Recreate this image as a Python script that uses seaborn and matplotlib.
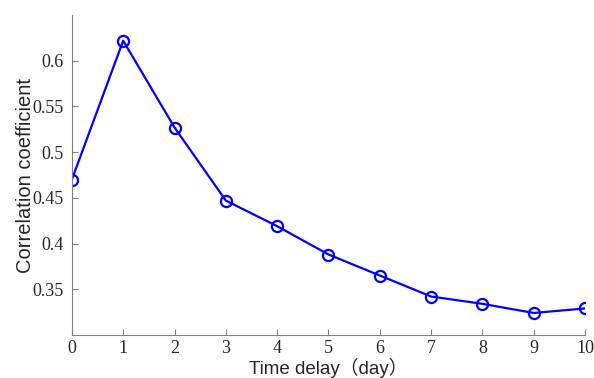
import numpy as np
import pandas as pd
import matplotlib
matplotlib.use("Agg")
import matplotlib.pyplot as plt
import seaborn as sns

# dados
atraso = [0, 1, 2, 3, 4, 5, 6, 7, 8, 9, 10]
correlacao = [0.470, 0.622, 0.527, 0.447, 0.419, 0.388, 0.365, 0.342, 0.334, 0.324, 0.329]
yticks = [0.35, 0.4, 0.45, 0.5, 0.55, 0.6]
ytick_labels = ["0.35", "0.4", "0.45", "0.5", "0.55", "0.6"]

sns.set_style("ticks")
plt.rcParams["font.family"] = ["Liberation Sans", "Noto Sans CJK SC", "DejaVu Sans"]

df = pd.DataFrame({"atraso": atraso, "correlacao": correlacao})

fig = plt.figure(figsize=(5.94, 3.78), dpi=100)
ax = fig.add_axes([0.121, 0.114, 0.864, 0.846])

sns.lineplot(
    data=df, x="atraso", y="correlacao", ax=ax,
    color="#0000ff", linewidth=1.6, marker="o", markersize=8,
    markerfacecolor="none", markeredgecolor="#0000ff", markeredgewidth=1.6,
)

ax.set_xlim(0, 10)
ax.set_ylim(0.30, 0.65)
ax.set_xticks(atraso)
ax.set_xticklabels([str(v) for v in atraso], family="Liberation Serif", fontsize=13)
ax.set_yticks(yticks)
ax.set_yticklabels(ytick_labels, family="Liberation Serif", fontsize=13)
ax.tick_params(direction="in", length=4, color="#808080", width=0.8, pad=6)
ax.tick_params(axis="x", pad=4)

for lado in ["top", "right"]:
    ax.spines[lado].set_visible(False)
for lado in ["left", "bottom"]:
    ax.spines[lado].set_color("#808080")
    ax.spines[lado].set_linewidth(0.8)

ax.set_xlabel("Time delay（day）", fontsize=13.5, labelpad=0)
ax.set_ylabel("Correlation coefficient", fontsize=14.5, labelpad=-2)

fig.savefig("out.png", dpi=100, facecolor="white")
